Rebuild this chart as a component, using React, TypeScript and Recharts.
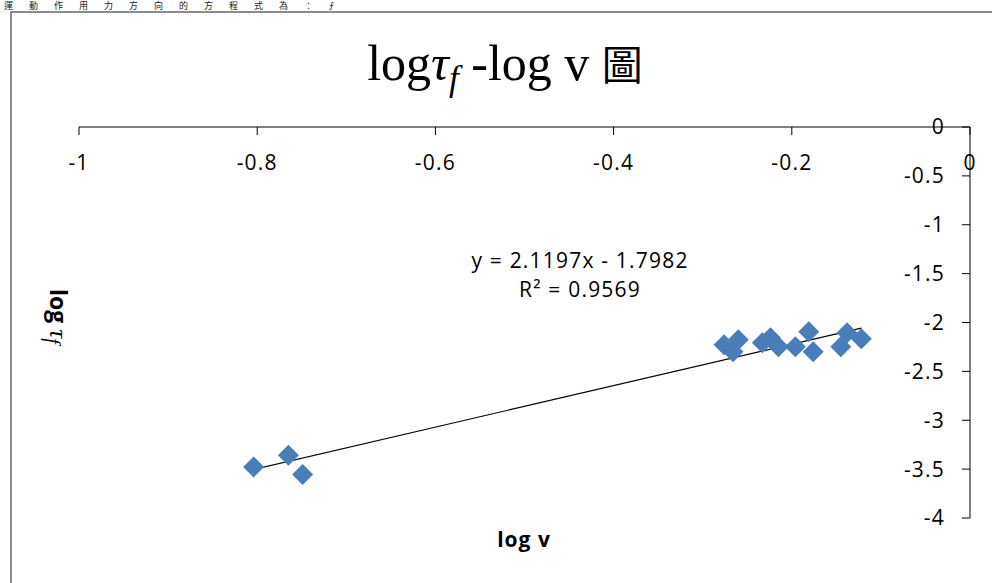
import { ScatterChart, Scatter, XAxis, YAxis, ReferenceLine } from 'recharts'

// log v (x) and log tau_f (y)
const logV = [-0.804, -0.765, -0.749, -0.276, -0.266, -0.26, -0.233, -0.224, -0.215, -0.196, -0.181, -0.176, -0.145, -0.138, -0.122]
const logTau = [-3.477, -3.357, -3.556, -2.228, -2.3, -2.177, -2.207, -2.156, -2.248, -2.248, -2.094, -2.3, -2.248, -2.105, -2.166]

const xTicks = [-1, -0.8, -0.6, -0.4, -0.2, 0]
const yTicks = [0, -0.5, -1, -1.5, -2, -2.5, -3, -3.5, -4]

// linear trendline shown in the chart
const slope = 2.1197
const intercept = -1.7982
const rSquared = 0.9569

const points = logV.map((x, i) => ({ x, y: logTau[i] }))
const minX = Math.min(...logV)
const maxX = Math.max(...logV)

const sans = "'Open Sans', 'Liberation Sans', sans-serif"
const serif = "'Liberation Serif', 'DejaVu Serif', serif"
const cjk = "'Noto Sans CJK TC', serif"

const tickStyle = { fill: '#000', fontSize: 21, fontFamily: sans, letterSpacing: 1.2 }

const Diamond = (props: any) => {
  const { cx, cy } = props
  const r = 10.5
  return (
    <polygon
      points={`${cx},${cy - r} ${cx + r},${cy} ${cx},${cy + r} ${cx - r},${cy}`}
      fill="#4a7ebb"
    />
  )
}

export default function App() {
  return (
    <div style={{ position: 'absolute', left: 0, top: 0, width: 992, height: 583, overflow: 'hidden', background: '#fff' }}>
      {/* line of text above the chart */}
      <div
        style={{
          position: 'absolute',
          left: 4,
          top: 1,
          fontSize: 9,
          lineHeight: '10px',
          letterSpacing: 16,
          fontFamily: cjk,
          whiteSpace: 'nowrap',
          color: '#222',
        }}
      >
        運動作用力方向的方程式為：ƒ
      </div>
      <div
        style={{
          position: 'absolute',
          left: 10,
          top: 11,
          width: 990,
          height: 580,
          borderTop: '2px solid #8c8c8c',
          borderLeft: '2px solid #8c8c8c',
        }}
      />
      <div style={{ position: 'absolute', left: 0, top: 0 }}>
        <ScatterChart width={992} height={583} margin={{ top: 127, right: 22, bottom: 65, left: 79 }}>
          <XAxis
            type="number"
            dataKey="x"
            domain={[-1, 0]}
            ticks={xTicks}
            interval={0}
            orientation="top"
            mirror
            height={1}
            tickSize={8}
            tickMargin={20}
            stroke="#000"
            tick={tickStyle}
          />
          <YAxis
            type="number"
            dataKey="y"
            domain={[-4, 0]}
            ticks={yTicks}
            interval={0}
            orientation="right"
            mirror
            width={1}
            tickSize={8}
            tickMargin={17}
            stroke="#000"
            tick={tickStyle}
          />
          <ReferenceLine
            segment={[
              { x: minX, y: slope * minX + intercept },
              { x: maxX, y: slope * maxX + intercept },
            ]}
            stroke="#000"
            strokeWidth={1.2}
          />
          <Scatter data={points} shape={<Diamond />} isAnimationActive={false} />
        </ScatterChart>
      </div>
      <svg width={992} height={583} style={{ position: 'absolute', left: 0, top: 0, pointerEvents: 'none' }}>
        <text x={505} y={80} textAnchor="middle" fontFamily={serif} fontSize={50} fill="#000">
          log
          <tspan fontStyle="italic">τ</tspan>
          <tspan fontStyle="italic" fontSize={35} dy={10}>f</tspan>
          <tspan dy={-10}> -log v </tspan>
          <tspan fontFamily={cjk} fontSize={41}>圖</tspan>
        </text>
        <text x={580} y={268} textAnchor="middle" fontFamily={sans} fontSize={21} letterSpacing={1.2} fill="#000">
          {`y = ${slope}x - ${Math.abs(intercept)}`}
        </text>
        <text x={580} y={297} textAnchor="middle" fontFamily={sans} fontSize={21} letterSpacing={1.2} fill="#000">
          {`R² = ${rSquared}`}
        </text>
        <text x={524} y={547} textAnchor="middle" fontFamily={sans} fontSize={21} letterSpacing={1} fontWeight="bold" fill="#000">
          log v
        </text>
        <text transform="translate(50,289) rotate(90)" fontSize={23} fill="#000">
          <tspan fontFamily={sans} fontWeight="bold">log </tspan>
          <tspan fontFamily={serif} fontStyle="italic" fontSize={25}>τ</tspan>
          <tspan fontFamily={serif} fontStyle="italic" fontSize={20} dy={4}>f</tspan>
        </text>
      </svg>
    </div>
  )
}
